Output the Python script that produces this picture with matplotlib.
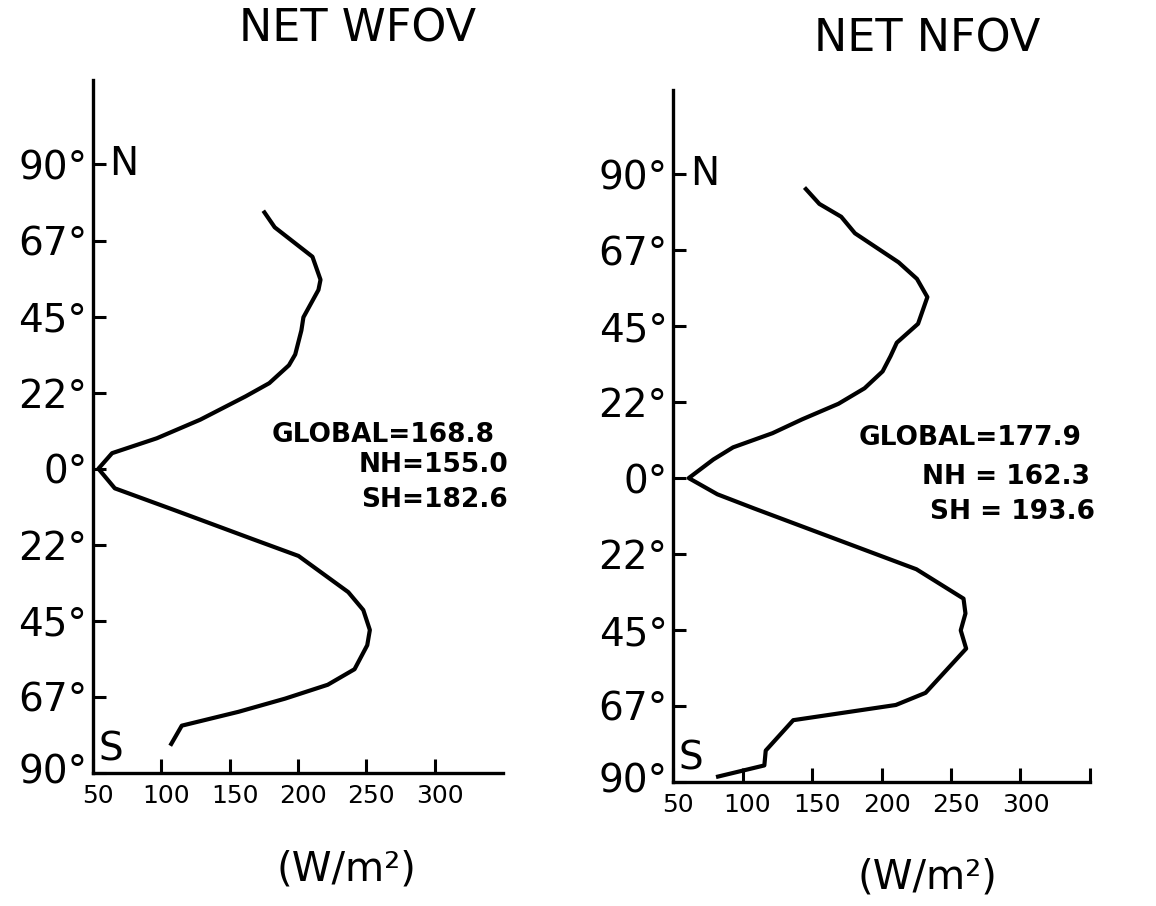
import matplotlib
matplotlib.use("Agg")
import matplotlib.pyplot as plt
from matplotlib.transforms import ScaledTranslation

# latitude (deg, + north) and net flux (W/m2)
lat_wfov = [75.8, 71.4, 62.7, 55.9, 52.9, 44.8, 40.9, 33.8, 30.6, 25.3, 21.4,
            14.5, 9.0, 4.6, 0.0, -5.8, -12.3, -20.8, -25.8, -36.5, -41.8,
            -47.7, -52.2, -59.3, -63.9, -68.0, -71.9, -76.0, -81.4]
flux_wfov = [175.5, 183, 210.6, 216.5, 215, 204, 202.5, 198, 193.4, 179, 161.7,
             128.5, 96.7, 64, 54, 66, 110, 166.7, 200.4, 236.8, 247.8,
             252.6, 250.7, 241.4, 221.8, 190.6, 156.5, 115, 107.3]

lat_nfov = [85.6, 81.2, 77.4, 72.5, 63.9, 59.0, 53.6, 45.7, 40.1, 36.1, 31.6,
            26.6, 22.0, 17.4, 13.3, 9.1, 5.5, 0.0, -4.8, -9.0, -27.0, -35.7,
            -40.1, -45.1, -50.5, -63.6, -67.2, -71.7, -80.7, -85.1, -88.4]
flux_nfov = [145.6, 155.3, 171, 180.9, 212.3, 225.5, 233, 226.3, 211, 206.5, 200.8,
             187.8, 169, 142.9, 121.6, 93.2, 79, 61.3, 81.9, 108.4, 225.1, 259,
             260.4, 257, 260.9, 231.7, 210.3, 136.5, 116.7, 115.7, 82.4]

lat_ticks = [90, 67.5, 45, 22.5, 0, -22.5, -45, -67.5, -90]
lat_labels = ["90°", "67°", "45°", "22°", "0°", "22°", "45°", "67°", "90°"]
flux_ticks = [50, 100, 150, 200, 250, 300]
flux_labels = ["50", "100", "150", "200", "250", "300"]

stats_wfov = ["GLOBAL=168.8", "NH=155.0", "SH=182.6"]
stats_nfov = ["GLOBAL=177.9", "NH = 162.3", "SH = 193.6"]

fig = plt.figure(figsize=(11.56, 9.06), dpi=100)

ax1 = fig.add_axes([0.0804, 0.1468, 0.3547, 0.765])
ax2 = fig.add_axes([0.5822, 0.1369, 0.3607, 0.764])


def style(ax, lat, flux, end_tick):
    ax.plot(flux, lat, color="black", lw=3.0, solid_joinstyle="round")
    ax.set_xlim(50, 350)
    ax.set_ylim(-90, 115)
    for s in ["top", "right"]:
        ax.spines[s].set_visible(False)
    for s in ["left", "bottom"]:
        ax.spines[s].set_linewidth(2.4)
    ax.set_yticks(lat_ticks)
    ax.set_yticklabels(lat_labels, fontsize=28)
    if end_tick:
        ax.set_xticks(flux_ticks + [350])
        ax.set_xticklabels(flux_labels + [""], fontsize=18)
    else:
        ax.set_xticks(flux_ticks)
        ax.set_xticklabels(flux_labels, fontsize=18)
    ax.tick_params(axis="y", direction="in", length=9, width=2.2, pad=4)
    ax.tick_params(axis="x", direction="in", length=10, width=2.2, pad=8)
    shift = ScaledTranslation(5 / 100, 0, fig.dpi_scale_trans)
    for lab in ax.get_xticklabels():
        lab.set_transform(lab.get_transform() + shift)
    # bottom 90 deg label sits a little higher so it clears the "50"
    low = ax.get_yticklabels()[-1]
    low.set_transform(low.get_transform() + ScaledTranslation(0, 4 / 100, fig.dpi_scale_trans))
    ax.text(62, 90, "N", fontsize=28, ha="left", va="center")
    ax.text(54, -83, "S", fontsize=28, ha="left", va="center")


style(ax1, lat_wfov, flux_wfov, False)
style(ax2, lat_nfov, flux_nfov, True)

# summary numbers
ax1.text(0.98, 0.488, stats_wfov[0], transform=ax1.transAxes, fontsize=19,
         fontweight="bold", ha="right", va="center")
ax1.text(1.012, 0.444, stats_wfov[1], transform=ax1.transAxes, fontsize=19,
         fontweight="bold", ha="right", va="center")
ax1.text(1.012, 0.394, stats_wfov[2], transform=ax1.transAxes, fontsize=19,
         fontweight="bold", ha="right", va="center")

ax2.text(0.981, 0.497, stats_nfov[0], transform=ax2.transAxes, fontsize=19,
         fontweight="bold", ha="right", va="center")
ax2.text(1.0, 0.441, stats_nfov[1], transform=ax2.transAxes, fontsize=19,
         fontweight="bold", ha="right", va="center")
ax2.text(1.012, 0.390, stats_nfov[2], transform=ax2.transAxes, fontsize=19,
         fontweight="bold", ha="right", va="center")

fig.text(0.309, 0.968, "NET WFOV", fontsize=32, ha="center", va="center")
fig.text(0.802, 0.957, "NET NFOV", fontsize=32, ha="center", va="center")
fig.text(0.300, 0.040, "(W/m²)", fontsize=29, ha="center", va="center")
fig.text(0.802, 0.032, "(W/m²)", fontsize=29, ha="center", va="center")

fig.savefig("out.png", dpi=100)
